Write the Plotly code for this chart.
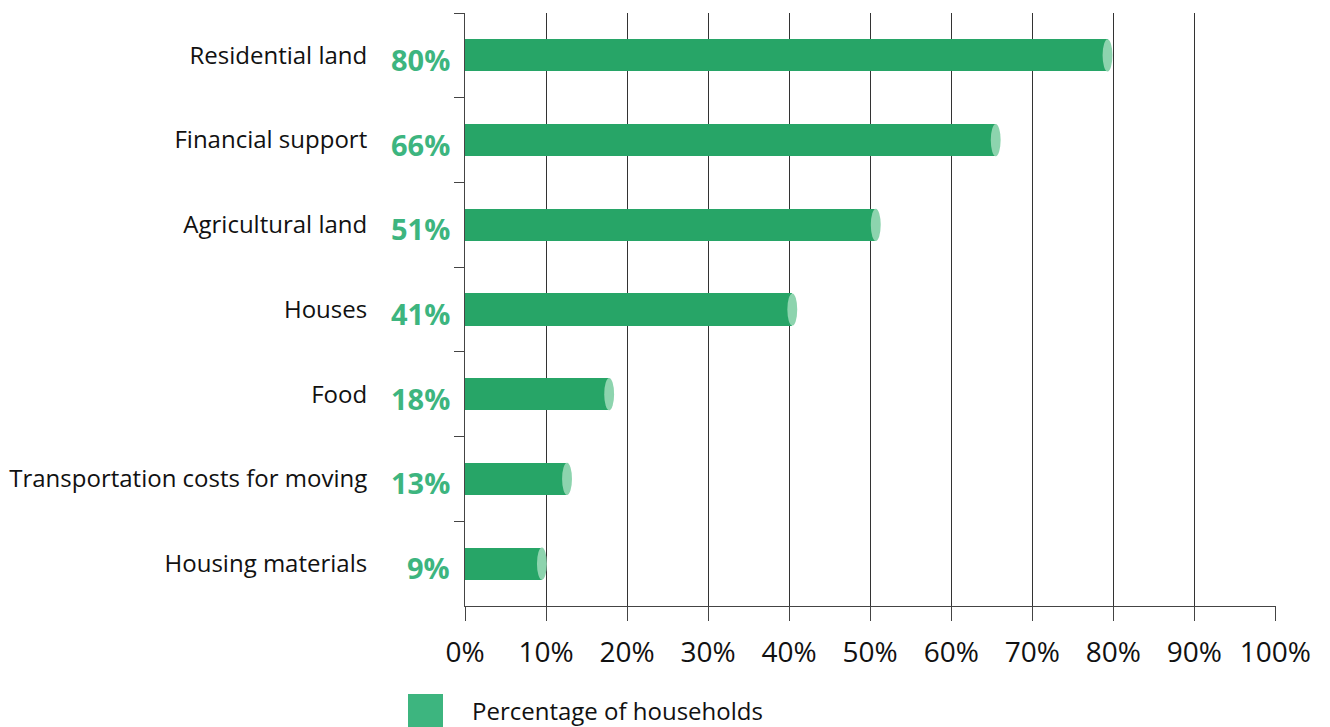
import plotly.graph_objects as go

categories = ["Residential land", "Financial support", "Agricultural land", "Houses",
              "Food", "Transportation costs for moving", "Housing materials"]
values = [79.9, 66.1, 51.3, 41.0, 18.4, 13.2, 10.1]
value_labels = ["80%", "66%", "51%", "41%", "18%", "13%", "9%"]
x_ticks = [0, 10, 20, 30, 40, 50, 60, 70, 80, 90, 100]
x_tick_labels = ["0%", "10%", "20%", "30%", "40%", "50%", "60%", "70%", "80%", "90%", "100%"]
series_name = "Percentage of households"

BAR = "#27a567"
CAP = "#8dd4ae"
LABEL = "#3db57f"
FONT = "'Open Sans', Lato, sans-serif"
CAP_W = 1.22
BAR_H = 0.38
PW, PH = 811, 593

fig = go.Figure()
fig.add_trace(go.Bar(
    y=categories, x=[v - CAP_W / 2 for v in values], orientation="h",
    marker=dict(color=BAR, line=dict(width=0)), width=BAR_H,
    showlegend=False, hoverinfo="skip"))

shapes = []
for i, v in enumerate(values):
    shapes.append(dict(type="circle", xref="x", yref="y",
                       x0=v - CAP_W, x1=v, y0=i - BAR_H / 2, y1=i + BAR_H / 2,
                       fillcolor=CAP, line=dict(width=0), layer="above"))

# legend swatch
shapes.append(dict(type="rect", xref="paper", yref="paper",
                   x0=-57 / PW, x1=-22 / PW, y0=-125 / PH, y1=-88 / PH,
                   fillcolor=LABEL, line=dict(width=0)))

annotations = []
for i, (v, t) in enumerate(zip(values, value_labels)):
    annotations.append(dict(x=0, y=i, xref="x", yref="y", text="<b>" + t + "</b>",
                            showarrow=False, xanchor="right", yanchor="middle",
                            xshift=-13, yshift=-4,
                            font=dict(family=FONT, size=29, color=LABEL)))
annotations.append(dict(x=5 / PW, y=-104 / PH, xref="paper", yref="paper",
                        text=series_name, showarrow=False, xanchor="left", yanchor="middle",
                        font=dict(family=FONT, size=24, color="#111")))

fig.update_layout(
    width=1322, height=719,
    margin=dict(l=457, r=54, t=5, b=121, autoexpand=False),
    paper_bgcolor="white", plot_bgcolor="white",
    font=dict(family=FONT, color="#111"),
    shapes=shapes, annotations=annotations,
    bargap=0,
)
fig.update_xaxes(range=[0, 100.08], tickvals=x_ticks, ticktext=x_tick_labels,
                 showgrid=True, gridcolor="#333", gridwidth=1,
                 showline=True, linecolor="#444", linewidth=1,
                 ticks="outside", ticklen=14, tickcolor="#444",
                 ticklabelstandoff=7, automargin=False,
                 tickfont=dict(family=FONT, size=28, color="#111"),
                 zeroline=False, fixedrange=True)
fig.update_yaxes(range=[6.5, -0.5], type="category",
                 showgrid=False, showline=True, linecolor="#444", linewidth=1,
                 ticks="outside", ticklen=10, tickcolor="#444", tickson="boundaries",
                 ticklabelstandoff=92, automargin=False,
                 tickfont=dict(family=FONT, size=24, color="#111"),
                 fixedrange=True)

fig.write_html("out.html")
